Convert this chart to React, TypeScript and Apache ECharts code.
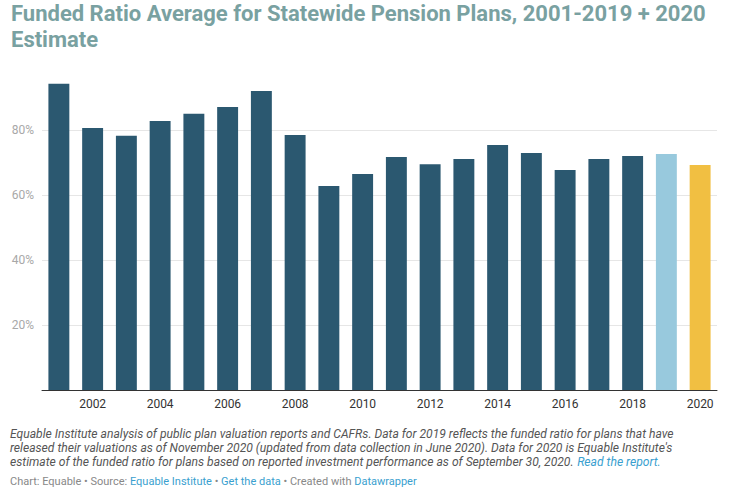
import React, { useEffect, useRef } from "react";
import * as echarts from "echarts";

const years = ["2001","2002","2003","2004","2005","2006","2007","2008","2009","2010","2011","2012","2013","2014","2015","2016","2017","2018","2019","2020"];
const fundedRatio = [94.2, 80.6, 78.2, 82.8, 85.0, 87.1, 92.0, 78.5, 62.8, 66.5, 71.7, 69.5, 71.1, 75.4, 72.9, 67.7, 71.1, 72.0, 72.6, 69.2];
const barColors = ["#2b5870", "#98c9dd", "#f1bf42"]; // actual, 2019 partial, 2020 estimate
const yTicks = [20, 40, 60, 80];

const titleText = "Funded Ratio Average for Statewide Pension Plans, 2001-2019 + 2020\nEstimate";
const noteLines = [
  "Equable Institute analysis of public plan valuation reports and CAFRs. Data for 2019 reflects the funded ratio for plans that have",
  "released their valuations as of November 2020 (updated from data collection in June 2020). Data for 2020 is Equable Institute's",
  "estimate of the funded ratio for plans based on reported investment performance as of September 30, 2020. ",
];
const noteLink = "Read the report.";

export default function App() {
  const ref = useRef<HTMLDivElement>(null);
  useEffect(() => {
    const chart = echarts.init(ref.current!, null, { renderer: "svg" });
    const data = fundedRatio.map((v, i) => ({
      value: v,
      itemStyle: { color: i === 19 ? barColors[2] : i === 18 ? barColors[1] : barColors[0] },
    }));
    chart.setOption({
      animation: false,
      grid: { left: 42, right: 14, top: 65, bottom: 106 },
      xAxis: {
        type: "category",
        data: years,
        axisTick: { show: false },
        axisLine: { lineStyle: { color: "#333", width: 1 } },
        axisLabel: {
          interval: 0,
          formatter: (v: string) => (parseInt(v) % 2 === 0 ? v : ""),
          color: "#333",
          fontFamily: "Roboto",
          fontSize: 12,
          margin: 8,
        },
      },
      yAxis: {
        type: "value",
        min: 0,
        max: 100,
        interval: 20,
        axisLine: { show: false },
        axisTick: { show: false },
        splitLine: { show: true, showMinLine: false, showMaxLine: false, lineStyle: { color: "#e6e6e6", width: 1 } },
        axisLabel: {
          formatter: (v: number) => (yTicks.indexOf(v) >= 0 ? v + "%" : ""),
          color: "#a8a8a8",
          fontFamily: "Roboto",
          fontSize: 12,
          margin: 8,
        },
      },
      series: [
        {
          type: "bar",
          data,
          barCategoryGap: "38%",
        },
      ],
      graphic: [
        {
          type: "text",
          left: 11,
          top: 0,
          style: {
            text: titleText,
            fill: "#79a1a1",
            font: "bold 22px Roboto",
            lineHeight: 26,
          },
        },
        {
          type: "text",
          left: 10,
          top: 428,
          scaleX: 1.01,
          style: {
            text:
              "{a|" + noteLines[0] + "}\n{a|" + noteLines[1] + "}\n{a|" + noteLines[2] + "}{b|" + noteLink + "}",
            rich: {
              a: { fill: "#555", font: "italic 12px Roboto", lineHeight: 14 },
              b: { fill: "#3a9fcf", font: "italic 12px Roboto", lineHeight: 14 },
            },
          },
        },
        {
          type: "text",
          left: 10,
          top: 476,
          style: {
            text: "{g|Chart: Equable • Source: }{l|Equable Institute}{g| • }{l|Get the data}{g| • Created with }{l|Datawrapper}",
            rich: {
              g: { fill: "#888", font: "11px Roboto" },
              l: { fill: "#3a9fcf", font: "11px Roboto" },
            },
          },
        },
      ],
    });
    return () => chart.dispose();
  }, []);
  return <div ref={ref} style={{ position: "absolute", left: 0, top: 0, width: 731, height: 496 }} />;
}
